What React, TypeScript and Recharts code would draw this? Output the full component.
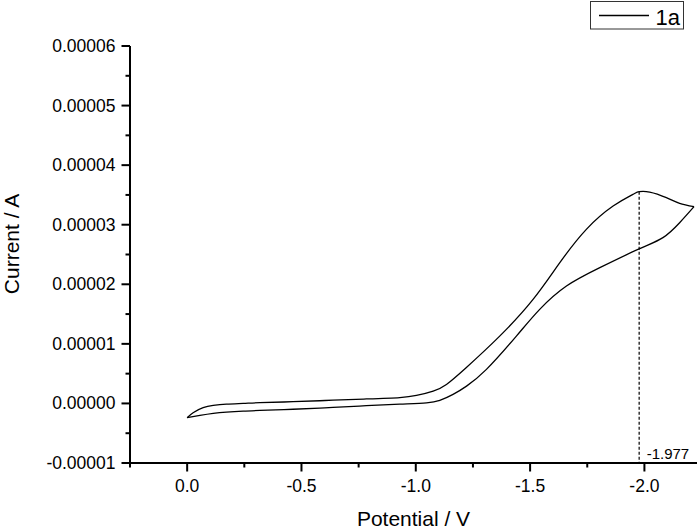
import React from 'react';
import { LineChart, Line, XAxis, YAxis, Legend, ReferenceLine, Label } from 'recharts';

// Cyclic voltammogram of 1a: forward/return branches (potential in V, current in A)
const upperPotential = [0, -0.026, -0.07, -0.114, -0.172, -0.245, -0.318, -0.463, -0.58, -0.638, -0.784, -0.93, -1.003, -1.076, -1.134, -1.219, -1.367, -1.513, -1.63, -1.746, -1.863, -1.95, -1.977, -2.023, -2.096, -2.154, -2.217];
const upperCurrent = [-2.4e-6, -1.56e-6, -0.72e-6, -0.34e-6, -0.12e-6, 0.0, 0.12e-6, 0.29e-6, 0.45e-6, 0.55e-6, 0.75e-6, 0.98e-6, 1.34e-6, 2.07e-6, 3.19e-6, 5.96e-6, 11.3e-6, 17.46e-6, 23.63e-6, 29.22e-6, 33.13e-6, 35.1e-6, 35.55e-6, 35.48e-6, 34.54e-6, 33.59e-6, 33.03e-6];

const lowerPotential = [0, -0.056, -0.114, -0.172, -0.245, -0.318, -0.463, -0.58, -0.638, -0.784, -0.93, -1.047, -1.105, -1.163, -1.222, -1.309, -1.44, -1.542, -1.659, -1.805, -1.977, -2.081, -2.154, -2.217];
const lowerCurrent = [-2.4e-6, -2.02e-6, -1.68e-6, -1.46e-6, -1.29e-6, -1.18e-6, -0.98e-6, -0.78e-6, -0.66e-6, -0.38e-6, -0.12e-6, 0.08e-6, 0.5e-6, 1.51e-6, 2.91e-6, 5.71e-6, 11.3e-6, 15.79e-6, 19.7e-6, 22.79e-6, 25.94e-6, 27.83e-6, 30.34e-6, 33.03e-6];

const xMajorTicks = [0, -0.5, -1.0, -1.5, -2.0];
const xMinorTicks = [0.25, -0.25, -0.75, -1.25, -1.75];
const yMajorTicks = [-0.00001, 0, 0.00001, 0.00002, 0.00003, 0.00004, 0.00005, 0.00006];
const yMinorTicks = [-0.000005, 0.000005, 0.000015, 0.000025, 0.000035, 0.000045, 0.000055];

const peakPotential = -1.977;
const peakCurrent = 35.55e-6;
const peakLabel = '-1.977';
const seriesName = '1a';

const upperData = upperPotential.map((v, i) => ({ v, i: upperCurrent[i] }));
const lowerData = lowerPotential.map((v, i) => ({ v, i: lowerCurrent[i] }));

const FONT = '"Liberation Sans", Arial, Helvetica, sans-serif';

const isIn = (arr: number[], val: number) => arr.some((t) => Math.abs(t - val) < 1e-9);

const XTick = (props: any) => {
  const { x, y, payload } = props;
  const major = isIn(xMajorTicks, payload.value);
  const len = major ? 8.5 : 4.5;
  return (
    <g>
      <line x1={x} x2={x} y1={y} y2={y + len} stroke="#000" strokeWidth={2} />
      {major && (
        <text x={x} y={y + 29} textAnchor="middle" fontSize={17.5} fontFamily={FONT} fill="#000">
          {Number(payload.value).toFixed(1)}
        </text>
      )}
    </g>
  );
};

const YTick = (props: any) => {
  const { x, y, payload } = props;
  const major = isIn(yMajorTicks, payload.value);
  const len = major ? 8.5 : 4.5;
  return (
    <g>
      <line x1={x - len} x2={x} y1={y} y2={y} stroke="#000" strokeWidth={2} />
      {major && (
        <text x={x - 14.5} y={y + 6} textAnchor="end" fontSize={17.5} fontFamily={FONT} fill="#000">
          {Number(payload.value).toFixed(5)}
        </text>
      )}
    </g>
  );
};

const renderYTitle = () => (
  <text x={19} y={244} transform="rotate(-90, 19, 244)" textAnchor="middle" fontSize={21} fontFamily={FONT} fill="#000">
    Current / A
  </text>
);

const renderXTitle = () => (
  <text x={413.5} y={526} textAnchor="middle" fontSize={21} fontFamily={FONT} fill="#000">
    Potential / V
  </text>
);

const renderPeakLabel = (props: any) => {
  const vb = props.viewBox || {};
  const x = (vb.x || 0) + 7.5;
  const y = (vb.y || 0) + (vb.height || 0) - 4;
  return (
    <text x={x} y={y} fontSize={15} fontFamily={FONT} fill="#000">
      {peakLabel}
    </text>
  );
};

const renderLegend = () => (
  <svg width={95} height={30} style={{ display: 'block' }}>
    <rect x={0.5} y={0.5} width={93} height={27.5} fill="#fff" stroke="#333" strokeWidth={1} />
    <line x1={9} x2={59} y1={14.5} y2={14.5} stroke="#000" strokeWidth={1.3} />
    <text x={65.5} y={24} fontSize={22} fontFamily={FONT} fill="#000">
      {seriesName}
    </text>
  </svg>
);

export default function App() {
  return (
    <div style={{ position: 'absolute', left: 0, top: 0, width: 698, height: 529, background: '#fff' }}>
      <LineChart width={698} height={529} margin={{ top: 46, right: 1, bottom: 0, left: 0 }}>
        <XAxis
          type="number"
          dataKey="v"
          domain={[-2.23, 0.25]}
          reversed
          allowDataOverflow
          ticks={[...xMinorTicks, ...xMajorTicks].sort((a, b) => b - a)}
          interval={0}
          tick={<XTick />}
          tickLine={false}
          tickSize={0}
          tickMargin={0}
          axisLine={{ stroke: '#000', strokeWidth: 2 }}
          height={66}
        >
          <Label content={renderXTitle} />
        </XAxis>
        <YAxis
          type="number"
          dataKey="i"
          domain={[-0.00001, 0.00006]}
          allowDataOverflow
          ticks={[...yMinorTicks, ...yMajorTicks].sort((a, b) => a - b)}
          interval={0}
          tick={<YTick />}
          tickLine={false}
          tickSize={0}
          tickMargin={0}
          axisLine={{ stroke: '#000', strokeWidth: 2 }}
          width={130}
        >
          <Label content={renderYTitle} />
        </YAxis>
        <Legend
          layout="horizontal"
          verticalAlign="middle"
          align="center"
          content={renderLegend}
          wrapperStyle={{ position: 'absolute', left: 590, top: 1, width: 95, height: 30 }}
        />
        <ReferenceLine
          segment={[
            { x: peakPotential, y: peakCurrent },
            { x: peakPotential, y: -0.00001 },
          ]}
          stroke="#000"
          strokeWidth={1.2}
          strokeDasharray="3 2"
          ifOverflow="visible"
          label={renderPeakLabel}
        />
        <Line
          data={upperData}
          dataKey="i"
          type="natural"
          stroke="#000"
          strokeWidth={1.3}
          dot={false}
          isAnimationActive={false}
          legendType="none"
        />
        <Line
          data={lowerData}
          dataKey="i"
          type="natural"
          stroke="#000"
          strokeWidth={1.3}
          dot={false}
          isAnimationActive={false}
          legendType="none"
        />
      </LineChart>
    </div>
  );
}
